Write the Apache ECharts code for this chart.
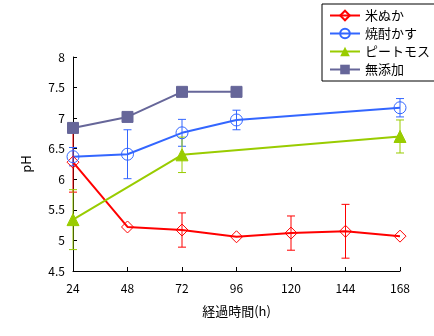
<!DOCTYPE html>
<html><head><meta charset="utf-8">
<script src="https://cdn.jsdelivr.net/npm/echarts@6/dist/echarts.min.js"></script>
<style>html,body{margin:0;padding:0;background:#fff}#c{width:434px;height:336px}</style>
</head><body><div id="c"></div>
<script>
const hours = [24, 48, 72, 96, 120, 144, 168];
const yTicks = [4.5, 5, 5.5, 6, 6.5, 7, 7.5, 8];
const seriesNames = ['米ぬか', '焼酎かす', 'ピートモス', '無添加'];
const colors = ['#FF0000', '#3366FF', '#99CC00', '#666699'];
// [hour, pH, error]
const komenuka = [[24, 6.28, 0.49], [48, 5.22, 0], [72, 5.17, 0.28], [96, 5.06, 0], [120, 5.12, 0.28], [144, 5.15, 0.44], [168, 5.07, 0]];
const shochukasu = [[24, 6.37, 0.15], [48, 6.41, 0.4], [72, 6.76, 0.22], [96, 6.97, 0.16], [168, 7.17, 0.15]];
const peatmoss = [[24, 5.34, 0.49], [72, 6.40, 0.29], [168, 6.70, 0.27]];
const mutenka = [[24, 6.84, 0], [48, 7.02, 0], [72, 7.43, 0], [96, 7.43, 0]];
const allData = [komenuka, shochukasu, peatmoss, mutenka];
const symbols = ['diamond', 'circle', 'triangle', 'rect'];
const symbolSizes = [12, 12, 12, 11];

const font = '"Noto Sans CJK JP", sans-serif';
const chart = echarts.init(document.getElementById('c'));

function errRender(color) {
  return function (params, api) {
    const x = api.value(0), y = api.value(1), e = api.value(2);
    if (!e) return null;
    const top = api.coord([x, y + e]);
    const bot = api.coord([x, y - e]);
    const w = 4;
    const st = { stroke: color, lineWidth: 1 };
    return { type: 'group', children: [
      { type: 'line', shape: { x1: top[0], y1: top[1], x2: bot[0], y2: bot[1] }, style: st },
      { type: 'line', shape: { x1: top[0] - w, y1: top[1], x2: top[0] + w, y2: top[1] }, style: st },
      { type: 'line', shape: { x1: bot[0] - w, y1: bot[1], x2: bot[0] + w, y2: bot[1] }, style: st }
    ]};
  };
}

const series = [];
allData.forEach((d, i) => {
  series.push({
    type: 'custom', name: seriesNames[i] + '_err', renderItem: errRender(colors[i]),
    data: d, z: 1, silent: true
  });
});
allData.forEach((d, i) => {
  const filled = (i >= 2);
  series.push({
    type: 'line', name: seriesNames[i], data: d.map(p => [p[0], p[1]]),
    symbol: symbols[i], symbolSize: symbolSizes[i],
    lineStyle: { color: colors[i], width: 2 },
    itemStyle: filled ? { color: colors[i], borderColor: colors[i] } : { color: 'rgba(255,255,255,0)', borderColor: colors[i], borderWidth: 1 },
    showAllSymbol: true, animation: false, z: 2
  });
});

chart.setOption({
  animation: false,
  grid: { left: 73, right: 34, top: 57, bottom: 65 },
  legend: {
    data: seriesNames, orient: 'vertical', left: 322, top: 4, width: 105,
    borderColor: '#000', borderWidth: 1, padding: [5, 12, 5, 7], itemGap: 5,
    itemWidth: 30, itemHeight: 12,
    textStyle: { fontFamily: font, fontSize: 13, color: '#000' }
  },
  xAxis: {
    type: 'value', min: 24, max: 168, interval: 24,
    name: '経過時間(h)', nameLocation: 'middle', nameGap: 34,
    nameTextStyle: { fontFamily: font, fontSize: 13, color: '#000' },
    axisLine: { lineStyle: { color: '#000', width: 1 } },
    axisTick: { inside: true, length: 4, lineStyle: { color: '#000' } },
    axisLabel: { fontFamily: font, fontSize: 12, color: '#000', margin: 11 },
    splitLine: { show: false }
  },
  yAxis: {
    type: 'value', min: 4.5, max: 8, interval: 0.5,
    name: 'pH', nameLocation: 'middle', nameGap: 40, nameRotate: 90,
    nameTextStyle: { fontFamily: font, fontSize: 13, color: '#000' },
    axisLine: { show: true, lineStyle: { color: '#000', width: 1 } },
    axisTick: { show: true, inside: true, length: 4, lineStyle: { color: '#000' } },
    axisLabel: { fontFamily: font, fontSize: 12, color: '#000', margin: 8,
      formatter: v => yTicks.includes(v) ? String(v) : '' },
    splitLine: { show: false }
  },
  series: series
});
</script></body></html>
